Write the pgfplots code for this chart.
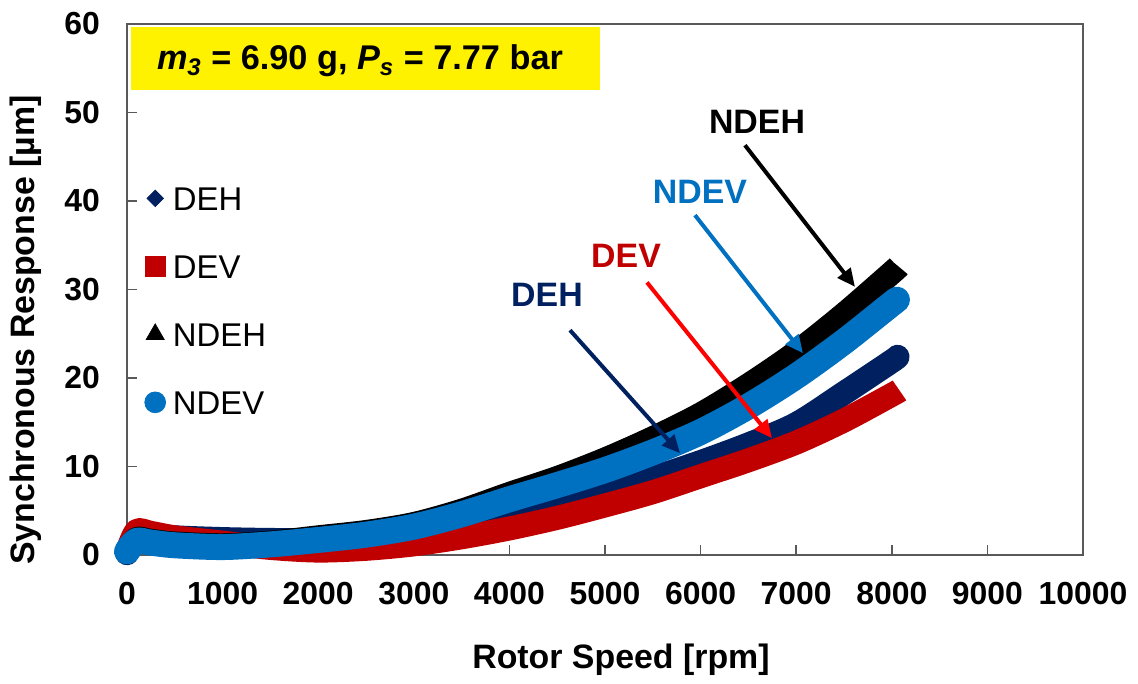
\documentclass[border=0pt]{standalone}
\usepackage{pgfplots}
\pgfplotsset{compat=1.18}
\usepackage{pgfplotstable}
\usepackage{fontspec}
\setmainfont{Liberation Sans}
\usetikzlibrary{arrows.meta}

\definecolor{dehblue}{RGB}{0,32,96}
\definecolor{devred}{RGB}{192,0,0}
\definecolor{devarrow}{RGB}{255,0,0}
\definecolor{ndevblue}{RGB}{0,112,192}
\definecolor{axisgray}{RGB}{89,89,89}

% rotor speed [rpm] vs synchronous response [um]
\pgfplotstableread{
x y
0 0.2
100 2.6
250 2.3
500 2.0
1000 1.8
1500 1.7
2000 1.7
2500 2.0
3000 2.5
3500 3.3
4000 4.3
4500 5.6
5000 7.0
5500 8.7
6000 10.5
6500 12.5
7000 14.8
7500 18.3
8000 21.9
8060 22.4
}\deh
\pgfplotstableread{
x y
0 0.3
100 2.7
250 2.5
500 2.0
1000 1.4
1500 0.8
2000 0.5
2500 0.7
3000 1.2
3500 2.0
4000 3.0
4500 4.2
5000 5.6
5500 7.1
6000 8.9
6500 10.7
7000 12.7
7500 15.2
8000 18.1
8080 18.6
}\dev
\pgfplotstableread{
x y
0 0.3
100 1.8
250 1.6
500 1.3
1000 1.1
1500 1.4
2000 2.0
2500 2.6
3000 3.5
3500 5.0
4000 6.9
4500 8.7
5000 10.8
5500 13.2
6000 15.9
6500 19.2
7000 22.9
7500 27.2
8000 31.9
8070 32.6
}\ndeh
\pgfplotstableread{
x y
0 0.4
100 1.6
250 1.4
500 1.1
1000 0.9
1500 1.2
2000 1.7
2500 2.3
3000 3.2
3500 4.6
4000 6.3
4500 7.9
5000 9.6
5500 11.6
6000 13.9
6500 16.8
7000 20.2
7500 24.1
8000 28.4
8050 28.8
}\ndev

\begin{document}
\begin{tikzpicture}
\path[use as bounding box] (-63.5bp,-64.5bp) rectangle (505.5bp,277.5bp);
\begin{axis}[
  at={(0,0)}, anchor=south west,
  scale only axis, width=478bp, height=265.5bp,
  xmin=0, xmax=10000, ymin=0, ymax=60,
  xtick={0,1000,...,10000}, ytick={0,10,...,60},
  scaled x ticks=false,
  /pgf/number format/1000 sep={},
  /pgf/number format/assume math mode=true,
  tick align=inside, xtick pos=left, ytick pos=left,
  major tick length=5bp,
  axis line style={axisgray, line width=0.8bp},
  tick style={axisgray, line width=0.8bp},
  tick label style={font=\fontsize{16}{16}\selectfont\bfseries},
  xticklabel style={yshift=-10bp},
  yticklabel style={xshift=-10bp},
  xlabel={Rotor Speed [rpm]},
  ylabel={Synchronous Response [µm]},
  label style={font=\fontsize{17}{17}\selectfont\bfseries},
  xlabel style={at={(axis description cs:0.5167,0)}, anchor=north, yshift=-40.8bp},
  ylabel style={at={(axis description cs:-0.1056,0.4237)}, anchor=center},
  clip=false,
  legend image code/.code={\draw[#1] plot coordinates {(0bp,0bp)};},
  legend cell align=left,
  legend style={at={(axis description cs:0.0182,0.695)}, anchor=north west,
    draw=none, fill=none, inner sep=0pt,
    font=\fontsize{16.5}{16.5}\selectfont,
    row sep=22bp, column sep=3.7bp,
    nodes={inner sep=0pt, text height=12bp, text depth=0bp}},
]
% condition label
\fill[yellow] (axis cs:40,59.7) rectangle (axis cs:4950,52.5);
\node[font=\fontsize{17.2}{17.2}\selectfont\bfseries] at (axis cs:2437,55.8)
  {\textit{m}\textsubscript{\textit{3}} = 6.90 g, \textit{P}\textsubscript{\textit{s}} = 7.77 bar};

% measured response bands
\addplot[dehblue, line width=12bp, smooth, line cap=round, line join=round, forget plot] table {\deh};
\addplot[devred, line width=12bp, smooth, line cap=butt, line join=round, forget plot] table {\dev};
\addplot[black, line width=12bp, smooth, line cap=butt, line join=round, forget plot] table {\ndeh};
\addplot[ndevblue, line width=13bp, smooth, line cap=round, line join=round, forget plot] table {\ndev};

\addlegendimage{only marks, mark=square*, mark size=2.9bp, mark options={rotate=45, fill=dehblue, draw=dehblue}}
\addlegendentry{DEH}
\addlegendimage{only marks, mark=square*, mark size=5bp, mark options={fill=devred, draw=devred}}
\addlegendentry{DEV}
\addlegendimage{only marks, mark=triangle*, mark size=5.2bp, mark options={fill=black, draw=black}}
\addlegendentry{NDEH}
\addlegendimage{only marks, mark=*, mark size=5.2bp, mark options={fill=ndevblue, draw=ndevblue}}
\addlegendentry{NDEV}

% series call-outs
\node[font=\fontsize{17}{17}\selectfont\bfseries, text=black] at (axis cs:6590,48.9) {NDEH};
\draw[black, line width=2bp, -{Triangle[length=9bp,width=8bp]}] (axis cs:6464,46.3) -- (axis cs:7615,30.3);
\node[font=\fontsize{17}{17}\selectfont\bfseries, text=ndevblue] at (axis cs:5994,41.0) {NDEV};
\draw[ndevblue, line width=2bp, -{Triangle[length=9bp,width=8bp]}] (axis cs:5941,38.4) -- (axis cs:7071,22.8);
\node[font=\fontsize{17}{17}\selectfont\bfseries, text=devred] at (axis cs:5220,33.8) {DEV};
\draw[devarrow, line width=2bp, -{Triangle[length=9bp,width=8bp]}] (axis cs:5439,30.8) -- (axis cs:6747,13.2);
\node[font=\fontsize{17}{17}\selectfont\bfseries, text=dehblue] at (axis cs:4393,29.4) {DEH};
\draw[dehblue, line width=2bp, -{Triangle[length=9bp,width=8bp]}] (axis cs:4634,25.4) -- (axis cs:5785,11.5);
\end{axis}
\end{tikzpicture}
\end{document}
